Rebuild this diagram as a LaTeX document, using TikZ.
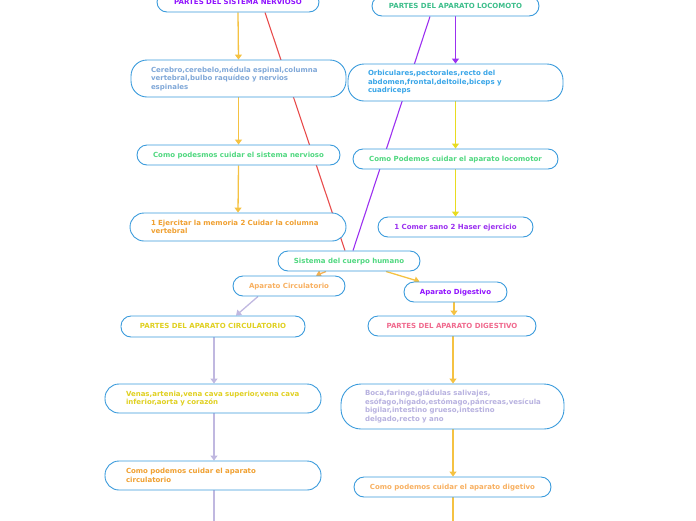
\documentclass[tikz,border=0pt]{standalone}
\usepackage{fontspec}
\setmainfont{DejaVu Sans}
\usetikzlibrary{arrows.meta,calc,backgrounds}
\definecolor{bordc}{HTML}{3A9BDC}
\definecolor{tpurple}{HTML}{9013FE}
\definecolor{tteal}{HTML}{3DBE8B}
\definecolor{tlblue}{HTML}{80A8D8}
\definecolor{tblue}{HTML}{3AA6E8}
\definecolor{tgreen}{HTML}{50D880}
\definecolor{torange}{HTML}{F0A030}
\definecolor{tlorange}{HTML}{F8B060}
\definecolor{tyellow}{HTML}{E0D020}
\definecolor{tpink}{HTML}{F06A8E}
\definecolor{tlav}{HTML}{B8B2E0}
\definecolor{cyel}{HTML}{F5C242}
\definecolor{cyel2}{HTML}{E8DC20}
\definecolor{cred}{HTML}{E84C4C}
\definecolor{cpur}{HTML}{9B30F0}
\definecolor{clav}{HTML}{C0B8E0}
\definecolor{corg}{HTML}{F5B050}
\begin{document}
\begin{tikzpicture}[x=1pt,y=-1pt,
  box/.style={draw=bordc,line width=0.9pt,fill=white,font=\fontsize{7}{8.5}\selectfont\bfseries,inner sep=0pt,align=center},
  pill/.style={box,rounded corners=10pt,minimum height=20pt,text height=5.2pt,text depth=0.6pt},
  lbox/.style={box,align=left,inner ysep=0pt},
  conn/.style={line width=1.3pt,-{Triangle[width=7pt,length=5pt]}},
  plain/.style={line width=1.3pt}]
\useasboundingbox (0,0) rectangle (696,520);
% nodes
\node[pill,minimum width=162pt,text=tpurple] (nerv) at (238,2) {PARTES DEL SISTEMA NERVIOSO};
\node[pill,minimum width=167pt,text=tteal] (loco) at (455.5,6) {PARTES DEL APARATO LOCOMOTO};
\node[lbox,rounded corners=16pt,minimum height=37pt,text width=175pt,inner xsep=20pt,text=tlblue] (cereb) at (238.5,78.5) {Cerebro,cerebelo,médula espinal,columna\\vertebral,bulbo raquídeo y nervios\\espinales};
\node[lbox,rounded corners=16pt,minimum height=37pt,text width=175pt,inner xsep=20pt,text=tblue] (orbic) at (455.5,82.5) {Orbiculares,pectorales,recto del\\abdomen,frontal,deltoile,biceps y\\cuadriceps};
\node[pill,minimum width=203pt,text=tgreen] (comoN) at (238.5,155) {Como podesmos cuidar el sistema nervioso};
\node[pill,minimum width=205pt,text=tgreen] (comoL) at (455.5,159) {Como Podemos cuidar el aparato locomotor};
\node[lbox,rounded corners=14pt,minimum height=28pt,text width=174pt,inner xsep=21pt,text=torange] (ejerc) at (238,227) {1 Ejercitar la memoria 2 Cuidar la columna\\vertebral};
\node[pill,minimum width=155pt,text=cpur] (comer) at (455.5,227) {1 Comer sano 2 Haser ejercicio};
\node[pill,minimum width=142pt,text=tgreen] (sist) at (349,261) {Sistema del cuerpo humano};
\node[pill,minimum width=112pt,text=tlorange] (circ) at (289,286) {Aparato Circulatorio};
\node[pill,minimum width=103pt,text=tpurple] (dig) at (455.5,292) {Aparato Digestivo};
\node[pill,minimum width=184pt,minimum height=21pt,text=tyellow] (pcirc) at (213,326.5) {PARTES DEL APARATO CIRCULATORIO};
\node[pill,minimum width=168pt,text=tpink] (pdig) at (452,326) {PARTES DEL APARATO DIGESTIVO};
\node[lbox,rounded corners=14pt,minimum height=29pt,text width=174pt,inner xsep=21pt,text=tyellow] (venas) at (213,398.5) {Venas,artenia,vena cava superior,vena cava\\inferior,aorta y corazón};
\node[lbox,rounded corners=20pt,minimum height=45pt,text width=175pt,inner xsep=24pt,text=tlav] (boca) at (452.5,406.5) {Boca,faringe,gládulas salivajes,\\esófago,hígado,estómago,páncreas,vesícula\\bigilar,intestino grueso,intestino\\delgado,recto y ano};
\node[lbox,rounded corners=14pt,minimum height=29pt,text width=174pt,inner xsep=21pt,text=torange] (comoC) at (213,475.5) {Como podemos cuidar el aparato\\circulatorio};
\node[pill,minimum width=197pt,text=tlorange] (comoD) at (452.5,487) {Como podemos cuidar el aparato digetivo};
\coordinate (endC) at (214,522);
\coordinate (endD) at (453,522);
% connectors
\begin{pgfonlayer}{background}
\draw[conn,cyel] (nerv.south) -- (cereb.north);
\draw[conn,cyel] (cereb.south) -- (comoN.north);
\draw[conn,cyel] (comoN.south) -- (ejerc.north);
\draw[conn,cpur] (loco.south) -- (orbic.north);
\draw[conn,cyel2] (orbic.south) -- (comoL.north);
\draw[conn,cyel2] (comoL.south) -- (comer.north);
\draw[plain,cred,line width=1.1pt] ($(sist.north)+(-4,0)$) -- ($(nerv.south)+(27,0)$);
\draw[plain,cpur,line width=1.1pt] ($(sist.north)+(4,0)$) -- ($(loco.south)+(-25.5,0)$);
\draw[conn,corg] ($(sist.south)+(-23,0)$) -- ($(circ.north)+(27,0)$);
\draw[conn,cyel] ($(sist.south)+(37,0)$) -- ($(dig.north)+(-36,0)$);
\draw[conn,clav] ($(circ.south)+(-31,0)$) -- ($(pcirc.north)+(23,0)$);
\draw[conn,cyel] ($(dig.south)+(-1.5,0)$) -- ($(pdig.north)+(2,0)$);
\draw[conn,clav] ($(pcirc.south)+(1,0)$) -- ($(venas.north)+(1,0)$);
\draw[conn,clav] ($(venas.south)+(1,0)$) -- ($(comoC.north)+(1,0)$);
\draw[plain,clav] ($(comoC.south)+(1,0)$) -- (endC);
\draw[conn,cyel] ($(pdig.south)+(1,0)$) -- ($(boca.north)+(0.5,0)$);
\draw[conn,cyel] ($(boca.south)+(0.5,0)$) -- ($(comoD.north)+(0.5,0)$);
\draw[plain,cyel] ($(comoD.south)+(0.5,0)$) -- (endD);
\end{pgfonlayer}
\end{tikzpicture}
\end{document}
